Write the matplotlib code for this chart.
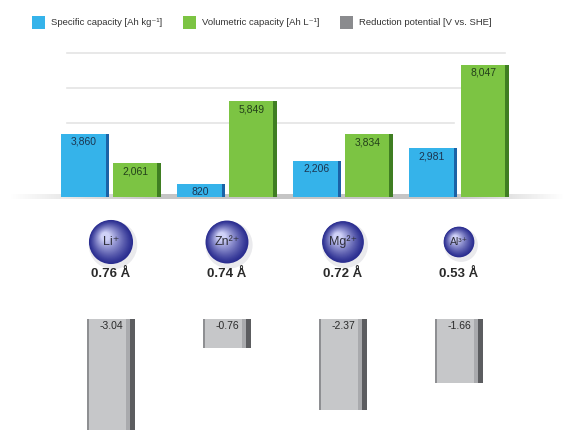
import numpy as np
import matplotlib
matplotlib.use("Agg")
import matplotlib.pyplot as plt
from matplotlib.patches import Circle, Rectangle
from matplotlib.colors import to_rgb

plt.rcParams['font.family'] = ['Liberation Sans', 'DejaVu Sans']

# data
ions = ["Li⁺", "Zn²⁺", "Mg²⁺", "Al³⁺"]
ionic_radius = [0.76, 0.74, 0.72, 0.53]          # Å
specific_capacity = [3860, 820, 2206, 2981]      # Ah kg-1
volumetric_capacity = [2061, 5849, 3834, 8047]   # Ah L-1
reduction_potential = [-3.04, -0.76, -2.37, -1.66]  # V vs. SHE
grid_levels = [4500, 6640, 8780]

legend_labels = ["Specific capacity [Ah kg⁻¹]", "Volumetric capacity [Ah L⁻¹]",
                 "Reduction potential [V vs. SHE]"]

BLUE, BLUE_D = "#35b3ea", "#1b62a6"
GREEN, GREEN_D = "#7cc443", "#3f7e22"
GRAY, GRAY_D = "#c6c7c9", "#5c5d60"

W, H = 567, 430
fig = plt.figure(figsize=(W / 100, H / 100), dpi=100)
fig.patch.set_facecolor("white")


def frac(y_top, y_bot):
    # pixel rows (from top) -> figure fraction bottom/height
    return (H - y_bot) / H, (y_bot - y_top) / H


x = np.arange(len(ions))
xlim = (-111 / 116, (W - 111) / 116)

# ---- top: capacities
b, h = frac(40, 197)
ax = fig.add_axes([0, b, 1, h])
ax.set_xlim(*xlim)
ax.set_ylim(0, 157 / 16.4 * 1000)
ax.axis("off")

for k, g in enumerate(grid_levels):
    xmax = 0.80 if k == 0 else 0.89
    ax.axhline(g, xmin=0.118, xmax=xmax, color="#e4e4e4", lw=1.2, zorder=0)

# floor shadow
grad = np.linspace(0, 1, 200)
alpha = np.minimum(grad / 0.25, 1) * np.minimum((1 - grad) / 0.2, 1)
shadow = np.zeros((1, 200, 4))
shadow[..., :3] = 0.72
shadow[..., 3] = alpha * 0.8
ax.imshow(shadow, extent=(xlim[0] + 0.08, xlim[1] - 0.02, -150, 120),
          aspect="auto", zorder=1, clip_on=False)

bw, off, side = 0.41, 0.222, 0.03
for vals, shift, c, cd, tc in [(specific_capacity, -off, BLUE, BLUE_D, "#1c3550"),
                               (volumetric_capacity, off, GREEN, GREEN_D, "#23401a")]:
    ax.bar(x + shift, vals, width=bw, color=c, zorder=2)
    ax.bar(x + shift + bw / 2 - side / 2, vals, width=side, color=cd, zorder=3)
    for xi, v in zip(x, vals):
        ax.text(xi + shift - 0.01, v - 180, f"{v:,}", ha="center", va="top",
                fontsize=7.5, color=tc, zorder=4)

# ---- bottom: reduction potential
b, h = frac(319, 430)
axb = fig.add_axes([0, b, 1, h])
axb.set_xlim(*xlim)
axb.set_ylim(-111 / 38.5, 0)
axb.axis("off")
bw2 = 0.42
axb.bar(x, reduction_potential, width=bw2, color=GRAY, zorder=2)
axb.bar(x + bw2 / 2 - 0.025, reduction_potential, width=0.05, color=GRAY_D, zorder=3)
axb.bar(x + bw2 / 2 - 0.06, reduction_potential, width=0.035, color="#a9aaad", zorder=3)
axb.bar(x - bw2 / 2 + 0.012, reduction_potential, width=0.024, color="#8e8f92", zorder=3)
for xi, v in zip(x, reduction_potential):
    axb.text(xi, -0.06, f"{v:.2f}", ha="center", va="top", fontsize=7.5,
             color="#2a2a2a", zorder=4)

# ---- overlay in pixel coordinates: ions and legend
ov = fig.add_axes([0, 0, 1, 1])
ov.set_xlim(0, W)
ov.set_ylim(0, H)
ov.axis("off")

edge = np.array(to_rgb("#2a2d90"))
light = np.array(to_rgb("#cfd1f7"))
fig.canvas.draw()
for xi, name, r in zip(x, ions, ionic_radius):
    cx = ax.transData.transform((xi, 0))[0]
    cy = H - 242
    rad = r * 29
    ov.add_patch(Circle((cx + 2, cy - 3), rad * 1.1, color="#c4c4cc", alpha=0.35, lw=0))
    n = 24
    for s in range(n):
        t = s / (n - 1)
        rr = rad * (1 - 0.8 * t)
        col = edge + (light - edge) * t ** 1.2
        ov.add_patch(Circle((cx - 0.25 * rad * t, cy + 0.25 * rad * t), rr,
                            color=col, lw=0))
    ov.text(cx, cy, name, ha="center", va="center", fontsize=9 if r > 0.6 else 7.5,
            color="#2f2f3a")
    ov.text(cx, H - 274, f"{r:.2f} Å", ha="center", va="center", fontsize=9.5,
            fontweight="bold", color="#2a2a2a")

leg_x = [32, 183, 340]
for lx, lab, c in zip(leg_x, legend_labels, [BLUE, GREEN, "#8a8b8e"]):
    ov.add_patch(Rectangle((lx, H - 29), 13, 13, color=c, lw=0))
    ov.text(lx + 19, H - 22.5, lab, ha="left", va="center", fontsize=6.8,
            color="#333333")

fig.savefig("out.png", dpi=100, facecolor="white")
